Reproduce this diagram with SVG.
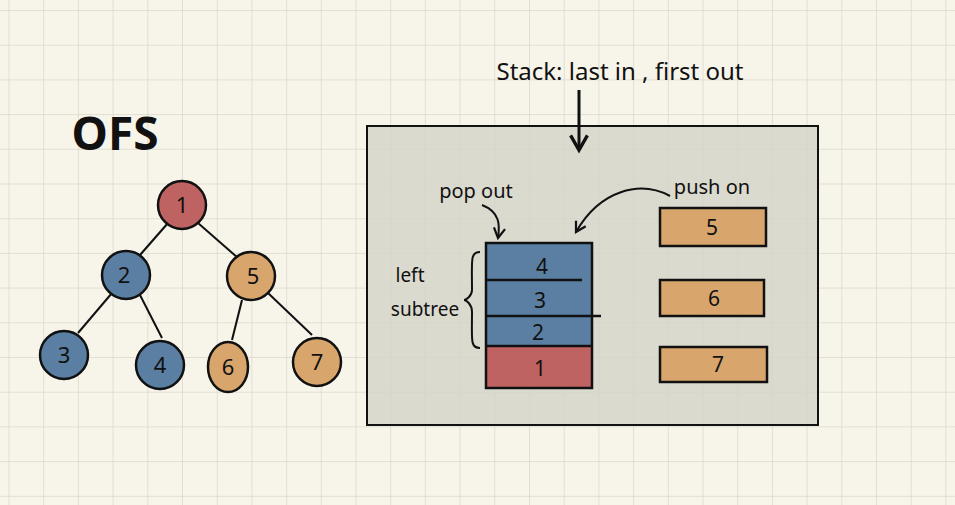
<svg xmlns="http://www.w3.org/2000/svg" width="955" height="505" viewBox="0 0 955 505">
<defs>
<pattern id="grid" x="8.5" y="10" width="34.7" height="34.7" patternUnits="userSpaceOnUse">
<path d="M0 0H34.7M0 0V34.7" fill="none" stroke="#dcd8cc" stroke-width="1.5"/>
</pattern>
<marker id="ah" viewBox="0 0 10 10" refX="8" refY="5" markerWidth="7" markerHeight="7" orient="auto-start-reverse">
<path d="M1 1L8 5L1 9" fill="none" stroke="#111" stroke-width="1.6"/>
</marker>
</defs>
<style>
text{font-family:"Noto Sans","DejaVu Sans",sans-serif;fill:#111;text-anchor:middle}
.n{stroke:#111;stroke-width:2.5}
.r{fill:#bf6262}.b{fill:#5b7fa2}.o{fill:#d8a66c}
.t{font-size:22px}
.s{font-size:21px}
.e{stroke:#111;stroke-width:2;fill:none}
</style>
<rect width="955" height="505" fill="#f7f4ea"/>
<rect width="955" height="505" fill="url(#grid)"/>
<text x="115" y="150" style="font-size:46px;font-weight:bold">OFS</text>
<rect x="367" y="126" width="451" height="299" fill="#d6d5ca" fill-opacity="0.85" stroke="#111" stroke-width="2"/>
<g id="connectors" class="e">
<path d="M168 223L140 255"/><path d="M198 223L238 258"/>
<path d="M112 293L78 333"/><path d="M140 295L162 338"/>
<path d="M242 300L232 340"/><path d="M268 293L312 335"/>
<path d="M579 90V150" stroke-width="3" marker-end="url(#ah)"/>
<path d="M482 205C500 212 500 225 498 238" marker-end="url(#ah)"/>
<path d="M670 196C640 180 600 190 576 232" marker-end="url(#ah)"/>
<path d="M480 252C470 252 472 260 472 290C472 296 466 300 464 300C466 300 472 304 472 312C472 340 470 348 480 348"/>
</g>
<g id="n1"><circle class="n r" cx="182" cy="205" r="24"/><text class="t" x="182" y="213">1</text></g>
<g id="n2"><circle class="n b" cx="126" cy="275" r="24"/><text class="t" x="124" y="283">2</text></g>
<g id="n5"><circle class="n o" cx="251" cy="276" r="24"/><text class="t" x="253" y="284">5</text></g>
<g id="n3"><circle class="n b" cx="64" cy="355" r="24"/><text class="t" x="64" y="363">3</text></g>
<g id="n4"><circle class="n b" cx="160" cy="365" r="24"/><text class="t" x="160" y="373">4</text></g>
<g id="n6"><ellipse class="n o" cx="228" cy="367" rx="20" ry="25"/><text class="t" x="228" y="375">6</text></g>
<g id="n7"><circle class="n o" cx="317" cy="362" r="24"/><text class="t" x="317" y="370">7</text></g>
<text x="620" y="80" style="font-size:24px">Stack: last in , first out</text>
<text x="476" y="198" style="font-size:20px">pop out</text>
<text x="712" y="194" style="font-size:20px">push on</text>
<text x="410" y="282" style="font-size:19px">left</text>
<text x="425" y="316" style="font-size:19px">subtree</text>
<g id="stack">
<rect x="486" y="243" width="106" height="103" class="b"/>
<rect x="486" y="346" width="106" height="42" class="r"/>
<rect x="486" y="243" width="106" height="145" fill="none" stroke="#111" stroke-width="2.5"/>
<path d="M486 280H582M486 316H601M486 346H592" stroke="#111" stroke-width="2.5"/>
<text class="s" x="542" y="274">4</text>
<text class="s" x="540" y="308">3</text>
<text class="s" x="538" y="340">2</text>
<text class="s" x="540" y="376">1</text>
</g>
<g id="p5"><rect x="660" y="208" width="106" height="38" class="n o"/><text class="s" x="712" y="235">5</text></g>
<g id="p6"><rect x="660" y="280" width="104" height="36" class="n o"/><text class="s" x="714" y="306">6</text></g>
<g id="p7"><rect x="660" y="347" width="107" height="35" class="n o"/><text class="s" x="718" y="372">7</text></g>
</svg>
